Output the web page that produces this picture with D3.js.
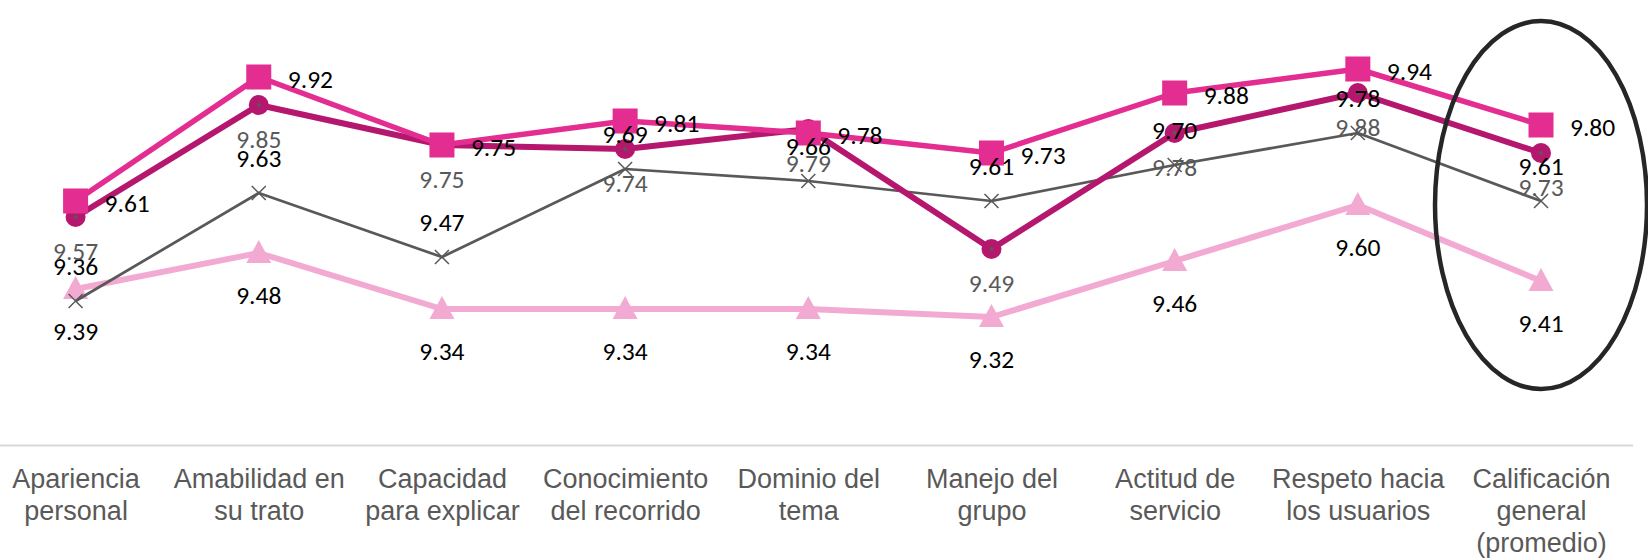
<!DOCTYPE html>
<html>
<head>
<meta charset="utf-8">
<script src="https://cdn.jsdelivr.net/npm/d3@7"></script>
<style>
  body { margin: 0; background: #fff; }
  .axis text { font-family: "Liberation Sans", Arial, sans-serif; }
  .label { font-family: Carlito, Calibri, Lato, sans-serif; font-size: 25.5px; }
</style>
</head>
<body>
<div class="chart"></div>
<script>
// categories (tick labels, line breaks with \n)
var categories = [
  "Apariencia\npersonal",
  "Amabilidad en\nsu trato",
  "Capacidad\npara explicar",
  "Conocimiento\ndel recorrido",
  "Dominio del\ntema",
  "Manejo del\ngrupo",
  "Actitud de\nservicio",
  "Respeto hacia\nlos usuarios",
  "Calificación\ngeneral\n(promedio)"
];

// series values
var serieCuadro = [9.61, 9.92, 9.75, 9.81, 9.78, 9.73, 9.88, 9.94, 9.80];
var serieCirculo = [9.57, 9.85, 9.75, 9.74, 9.79, 9.49, 9.78, 9.88, 9.73];
var serieCruz = [9.36, 9.63, 9.47, 9.69, 9.66, 9.61, 9.70, 9.78, 9.61];
var serieTriangulo = [9.39, 9.48, 9.34, 9.34, 9.34, 9.32, 9.46, 9.60, 9.41];

var yDomain = [9, 10];

var svgWidth = 1648;
var svgHeight = 559;

var svg = d3.select(".chart")
  .append("svg")
  .attr("width", svgWidth)
  .attr("height", svgHeight);

// scales
var xScale = d3.scalePoint()
  .domain(categories)
  .range([-16, 1632.6])
  .padding(0.5);

var yScale = d3.scaleLinear()
  .domain(yDomain)
  .range([445, 45]);

// x axis
var bottomAxis = d3.axisBottom(xScale).tickSize(0).tickSizeOuter(0);

var axisGroup = svg.append("g")
  .attr("class", "axis")
  .attr("transform", "translate(0, 445)")
  .call(bottomAxis);

axisGroup.select(".domain")
  .attr("stroke", "#d9d9d9")
  .attr("stroke-width", 2);

axisGroup.selectAll(".tick text")
  .attr("fill", "#595959")
  .attr("font-size", "27px")
  .attr("y", 0)
  .attr("dy", null)
  .each(function(d) {
    var t = d3.select(this);
    t.text(null);
    d.split("\n").forEach(function(line, i) {
      t.append("tspan")
        .attr("x", 0)
        .attr("y", 43 + i * 32)
        .text(line);
    });
  });

// series config: draw order bottom -> top
var series = [
  { values: serieTriangulo, color: "#f3aad2", width: 6, marker: "triangle", labelColor: "#000", labelPos: "below", labelDy: 50.5 },
  { values: serieCruz, color: "#595959", width: 2.75, marker: "cross", labelColor: "#000", labelPos: "above", labelDy: -26 },
  { values: serieCirculo, color: "#b5176e", width: 6, marker: "circle", labelColor: "#595959", labelPos: "below", labelDy: 43 },
  { values: serieCuadro, color: "#e32d91", width: 5.5, marker: "square", labelColor: "#000", labelPos: "right", labelDy: 11 }
];

var line = d3.line()
  .x(function(d, i) { return xScale(categories[i]); })
  .y(function(d) { return yScale(d); });

series.forEach(function(s) {
  var g = svg.append("g");

  g.append("path")
    .attr("d", line(s.values))
    .attr("fill", "none")
    .attr("stroke", s.color)
    .attr("stroke-width", s.width)
    .attr("stroke-linejoin", "round");

  var pts = g.selectAll(".pt")
    .data(s.values)
    .enter()
    .append("g")
    .attr("transform", function(d, i) {
      return "translate(" + xScale(categories[i]) + "," + yScale(d) + ")";
    });

  if (s.marker === "square") {
    pts.append("rect")
      .attr("x", -12.5).attr("y", -12.5)
      .attr("width", 25).attr("height", 25)
      .attr("fill", s.color);
  } else if (s.marker === "circle") {
    pts.append("circle").attr("r", 10).attr("fill", s.color);
    pts.append("circle").attr("r", 2).attr("fill", "#595959");
  } else if (s.marker === "triangle") {
    pts.append("path")
      .attr("d", "M0,-13L12.5,10L-12.5,10Z")
      .attr("fill", s.color);
  } else if (s.marker === "cross") {
    pts.append("path")
      .attr("d", "M-7,-7L7,7M-7,7L7,-7")
      .attr("stroke", s.color)
      .attr("stroke-width", 1.5);
  }
});

// data labels on top of all lines
series.forEach(function(s) {
  svg.append("g")
    .selectAll("text")
    .data(s.values)
    .enter()
    .append("text")
    .attr("class", "label")
    .attr("x", function(d, i) {
      return xScale(categories[i]) + (s.labelPos === "right" ? 29 : 0);
    })
    .attr("y", function(d) { return yScale(d) + s.labelDy; })
    .attr("text-anchor", s.labelPos === "right" ? "start" : "middle")
    .attr("fill", s.labelColor)
    .text(function(d) { return d3.format(".2f")(d); });
});

// ellipse highlighting the overall score
svg.append("ellipse")
  .attr("cx", xScale(categories[categories.length - 1]))
  .attr("cy", 205)
  .attr("rx", 106)
  .attr("ry", 184)
  .attr("fill", "none")
  .attr("stroke", "#262626")
  .attr("stroke-width", 4.5);
</script>
</body>
</html>
